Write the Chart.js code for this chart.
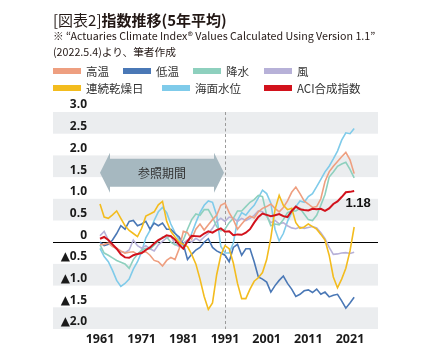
<!DOCTYPE html>
<html><head><meta charset="utf-8">
<script src="https://cdn.jsdelivr.net/npm/chart.js@4"></script>
<style>
html,body{margin:0;padding:0;background:#fff;}
#wrap{position:relative;width:432px;height:363px;overflow:hidden;font-family:"Noto Sans CJK JP","Noto Sans",sans-serif;color:#231815;}
#c{position:absolute;left:0;top:0;}
#title{position:absolute;left:53px;top:10px;font-size:15px;line-height:20px;white-space:nowrap;}
#title b{font-weight:700;}
.note{position:absolute;left:53px;font-size:10.7px;line-height:14px;white-space:nowrap;}
.leg{position:absolute;font-size:11.5px;line-height:14px;white-space:nowrap;color:#333;}
.sw{position:absolute;width:28px;height:6px;}
</style></head>
<body><div id="wrap">
<canvas id="c" width="432" height="363"></canvas>
<div id="title">[図表2]<b>指数推移(5年平均)</b></div>
<div class="note" style="top:29px">※ “Actuaries Climate Index® Values Calculated Using Version 1.1”</div>
<div class="note" style="top:45px">(2022.5.4)より、筆者作成</div>
<div id="legend"></div>
</div>
<script>
const years = [1961,1962,1963,1964,1965,1966,1967,1968,1969,1970,1971,1972,1973,1974,1975,1976,1977,1978,1979,1980,1981,1982,1983,1984,1985,1986,1987,1988,1989,1990,1991,1992,1993,1994,1995,1996,1997,1998,1999,2000,2001,2002,2003,2004,2005,2006,2007,2008,2009,2010,2011,2012,2013,2014,2015,2016,2017,2018,2019,2020,2021,2022];
const highTemp = [-0.06,-0.05,-0.02,-0.1,-0.14,-0.2,-0.25,-0.23,-0.22,-0.28,-0.24,-0.22,-0.3,-0.42,-0.45,-0.55,-0.42,-0.35,-0.4,-0.15,0.25,0.22,0.07,0.3,0.42,0.28,0.4,0.52,0.62,0.85,0.9,0.68,0.52,0.3,0.42,0.53,0.6,0.56,0.7,0.78,0.82,0.88,0.78,0.7,0.8,0.95,1.15,1.27,1.12,0.95,0.88,0.8,0.82,1.0,1.4,1.62,1.75,1.86,1.97,2.07,1.9,1.58];
const lowTemp = [0.0,-0.08,-0.05,0.05,0.2,0.38,0.3,0.48,0.5,0.38,0.42,0.48,0.3,0.44,0.38,0.44,0.3,0.3,0.2,0.12,-0.05,-0.4,-0.28,-0.18,-0.12,0.0,0.08,-0.12,-0.2,-0.25,-0.3,-0.45,-0.12,-0.05,-0.3,-0.15,-0.15,-0.45,-0.8,-0.85,-0.92,-1.15,-1.0,-0.88,-0.78,-0.95,-1.08,-1.25,-1.2,-1.12,-1.1,-1.16,-1.08,-1.2,-1.15,-1.26,-1.22,-1.2,-1.35,-1.52,-1.4,-1.27];
const precipitation = [-0.06,-0.25,-0.3,-0.36,-0.42,-0.46,-0.5,-0.6,-0.4,-0.28,-0.18,-0.14,-0.16,-0.07,0.02,0.12,0.12,0.0,-0.06,-0.02,0.05,0.3,0.52,0.65,0.62,0.75,0.75,0.58,0.36,0.26,0.3,0.45,0.55,0.72,0.72,0.82,0.92,0.98,1.08,1.05,0.62,0.38,0.42,0.4,0.52,0.68,0.72,0.72,0.78,0.65,0.52,0.5,0.62,0.85,1.1,1.5,1.62,1.75,1.8,1.84,1.68,1.48];
const wind = [0.15,0.25,0.05,-0.08,-0.16,-0.22,-0.24,-0.18,0.05,-0.08,-0.14,-0.08,-0.15,-0.2,-0.06,0.02,0.1,0.15,-0.05,-0.1,-0.02,0.05,0.0,0.09,0.03,0.12,0.2,0.32,0.48,0.55,0.48,0.58,0.56,0.48,0.55,0.5,0.55,0.62,0.72,0.7,0.6,0.45,0.5,0.42,0.45,0.38,0.33,0.31,0.35,0.32,0.34,0.36,0.33,0.22,0.08,-0.12,-0.28,-0.27,-0.25,-0.24,-0.26,-0.23];
const dryDays = [0.88,0.58,0.55,0.63,0.72,0.55,0.38,0.27,0.2,0.13,0.32,0.6,0.65,0.7,0.86,0.94,0.48,0.25,0.12,0.0,-0.05,-0.1,-0.28,-0.5,-0.85,-1.25,-1.55,-1.4,-0.75,-0.3,-0.08,-0.15,-0.48,-0.95,-1.3,-1.3,-1.08,-0.9,-0.82,-0.7,-0.4,0.1,0.75,1.08,0.85,0.75,0.78,0.45,0.32,0.35,0.42,0.36,0.3,0.18,0.05,-0.3,-0.8,-1.05,-0.85,-0.6,-0.2,0.35];
const seaLevel = [-0.14,-0.33,-0.45,-0.65,-0.88,-1.02,-0.95,-0.85,-0.62,-0.45,-0.22,0.1,0.27,0.5,0.7,0.8,0.68,0.42,0.22,0.05,-0.08,0.0,0.2,0.45,0.68,0.85,0.95,0.92,0.62,-0.1,-0.25,-0.25,-0.02,0.5,0.68,0.62,0.75,0.85,1.02,1.2,1.12,0.9,0.3,0.03,0.2,0.48,0.68,0.82,0.95,0.92,1.05,1.12,1.28,1.45,1.62,1.75,1.92,2.1,2.35,2.52,2.5,2.62];
const aciIndex = [0.08,0.12,0.05,-0.05,-0.15,-0.28,-0.35,-0.36,-0.3,-0.27,-0.25,-0.18,-0.12,-0.03,0.05,0.1,0.16,0.14,0.06,-0.06,-0.15,0.02,0.15,0.14,0.13,0.2,0.25,0.22,0.28,0.32,0.24,0.25,0.16,0.18,0.17,0.22,0.3,0.45,0.58,0.66,0.63,0.6,0.62,0.65,0.6,0.58,0.72,0.82,0.76,0.74,0.73,0.77,0.76,0.77,0.72,0.78,0.88,0.94,1.04,1.15,1.16,1.18];

const seriesNames = ['高温','低温','降水','風','連続乾燥日','海面水位','ACI合成指数'];
const seriesData = [highTemp, lowTemp, precipitation, wind, dryDays, seaLevel, aciIndex];
const xTicks = [1961,1971,1981,1991,2001,2011,2021];
const yTicks = [-2,-1.5,-1,-0.5,0,0.5,1,1.5,2,2.5,3];
const refPeriod = [1961,1991];
const refLabel = '参照期間';

// styles
const seriesColors = ['#EE9F80','#4A78B6','#8ED0BE','#B7B1D8','#F3BC1E','#7FCBEA','#D2121C'];
const legendPos = [[53,68],[123,68],[193,68],[264,68],[53,85],[162,85],[264,85]];
const bands = [[2.5,3],[1.5,2],[0.5,1],[-1,-0.5],[-2,-1.5]];

const lg = document.getElementById('legend');
seriesNames.forEach((n,i)=>{
  const s=document.createElement('div');s.className='sw';
  s.style.left=legendPos[i][0]+'px';s.style.top=legendPos[i][1]+'px';s.style.background=seriesColors[i];
  lg.appendChild(s);
  const t=document.createElement('div');t.className='leg';t.textContent=n;
  t.style.left=(legendPos[i][0]+33)+'px';t.style.top=(legendPos[i][1]-4)+'px';
  lg.appendChild(t);
});

const LEFT_EDGE = 53;
const bgPlugin = {
  id:'bg',
  beforeDraw(chart){
    const {ctx, chartArea:a, scales:{x,y}} = chart;
    ctx.save();
    ctx.fillStyle='#EBEDEF';
    bands.forEach(b=>{
      const t=y.getPixelForValue(b[1]), bt=y.getPixelForValue(b[0]);
      ctx.fillRect(LEFT_EDGE,t,a.right-LEFT_EDGE,bt-t);
    });
    const dx=Math.round(x.getPixelForValue(refPeriod[1]))+0.5;
    ctx.strokeStyle='#9a9a9a';ctx.lineWidth=1;ctx.setLineDash([3,2.5]);
    ctx.beginPath();ctx.moveTo(dx,a.top);ctx.lineTo(dx,a.bottom);ctx.stroke();
    ctx.setLineDash([]);
    const zy=Math.round(y.getPixelForValue(0))+0.5;
    ctx.strokeStyle='#000';ctx.lineWidth=1;
    ctx.beginPath();ctx.moveTo(LEFT_EDGE,zy);ctx.lineTo(a.right,zy);ctx.stroke();
    const x0=x.getPixelForValue(refPeriod[0]), x1=x.getPixelForValue(refPeriod[1])-1;
    const cy=y.getPixelForValue(1.6);
    const bh=14, hh=20, hl=10;
    ctx.fillStyle='#A6B8C0';
    ctx.beginPath();
    ctx.moveTo(x0,cy);
    ctx.lineTo(x0+hl,cy-hh);ctx.lineTo(x0+hl,cy-bh);
    ctx.lineTo(x1-hl,cy-bh);ctx.lineTo(x1-hl,cy-hh);
    ctx.lineTo(x1,cy);
    ctx.lineTo(x1-hl,cy+hh);ctx.lineTo(x1-hl,cy+bh);
    ctx.lineTo(x0+hl,cy+bh);ctx.lineTo(x0+hl,cy+hh);
    ctx.closePath();ctx.fill();
    ctx.fillStyle='#333';
    ctx.font='12px "Noto Sans CJK JP", sans-serif';
    ctx.textAlign='center';ctx.textBaseline='middle';
    ctx.fillText(refLabel,(x0+x1)/2,cy+1);
    ctx.restore();
  },
  afterDatasetsDraw(chart){
    const {ctx}=chart;
    const idx=seriesData.length-1;
    const meta=chart.getDatasetMeta(idx);
    const last=meta.data[meta.data.length-1];
    const v=aciIndex[aciIndex.length-1];
    ctx.save();
    ctx.fillStyle='#111';
    ctx.font='bold 13px "Liberation Sans", Arial, sans-serif';
    ctx.textAlign='center';ctx.textBaseline='middle';
    ctx.fillText(v.toFixed(2), last.x+4, last.y+12);
    ctx.restore();
  }
};

Chart.defaults.font.family = "'Open Sans','DejaVu Sans',sans-serif";
new Chart(document.getElementById('c'),{
  type:'line',
  data:{
    datasets: seriesNames.map((n,i)=>({
      label:n,
      data: years.map((yr,j)=>({x:yr,y:seriesData[i][j]})),
      borderColor: seriesColors[i],
      borderWidth: i===6?2:1.6,
      pointRadius:0,
      tension:0,
      fill:false,
      order: i===6?0:(i===4?1:2+i)
    }))
  },
  options:{
    responsive:false,
    animation:false,
    devicePixelRatio:1,
    layout:{padding:{left:53,right:54,top:112,bottom:14}},
    plugins:{legend:{display:false},tooltip:{enabled:false},title:{display:false}},
    scales:{
      x:{
        type:'linear',min:1959.08,max:2027.72,
        grid:{display:false,drawTicks:false},border:{display:false},
        afterBuildTicks:(s)=>{s.ticks=xTicks.map(v=>({value:v}));},
        afterFit:(s)=>{s.height=20;},
        ticks:{autoSkip:false,maxRotation:0,padding:3,color:'#1a1a1a',
          font:{size:12.5,weight:'bold'},
          callback:(v)=>String(v)}
      },
      y:{
        min:-2,max:3,
        grid:{display:false,drawTicks:false},border:{display:false},
        afterBuildTicks:(s)=>{s.ticks=yTicks.map(v=>({value:v}));},
        afterFit:(s)=>{s.width=39;},
        ticks:{padding:5,labelOffset:-7,color:'#1a1a1a',
          font:{size:12,weight:'bold'},
          callback:(v)=> v===0?'0':(v<0?'▲'+Math.abs(v).toFixed(1):v.toFixed(1))}
      }
    }
  },
  plugins:[bgPlugin]
});
</script>
</body></html>
